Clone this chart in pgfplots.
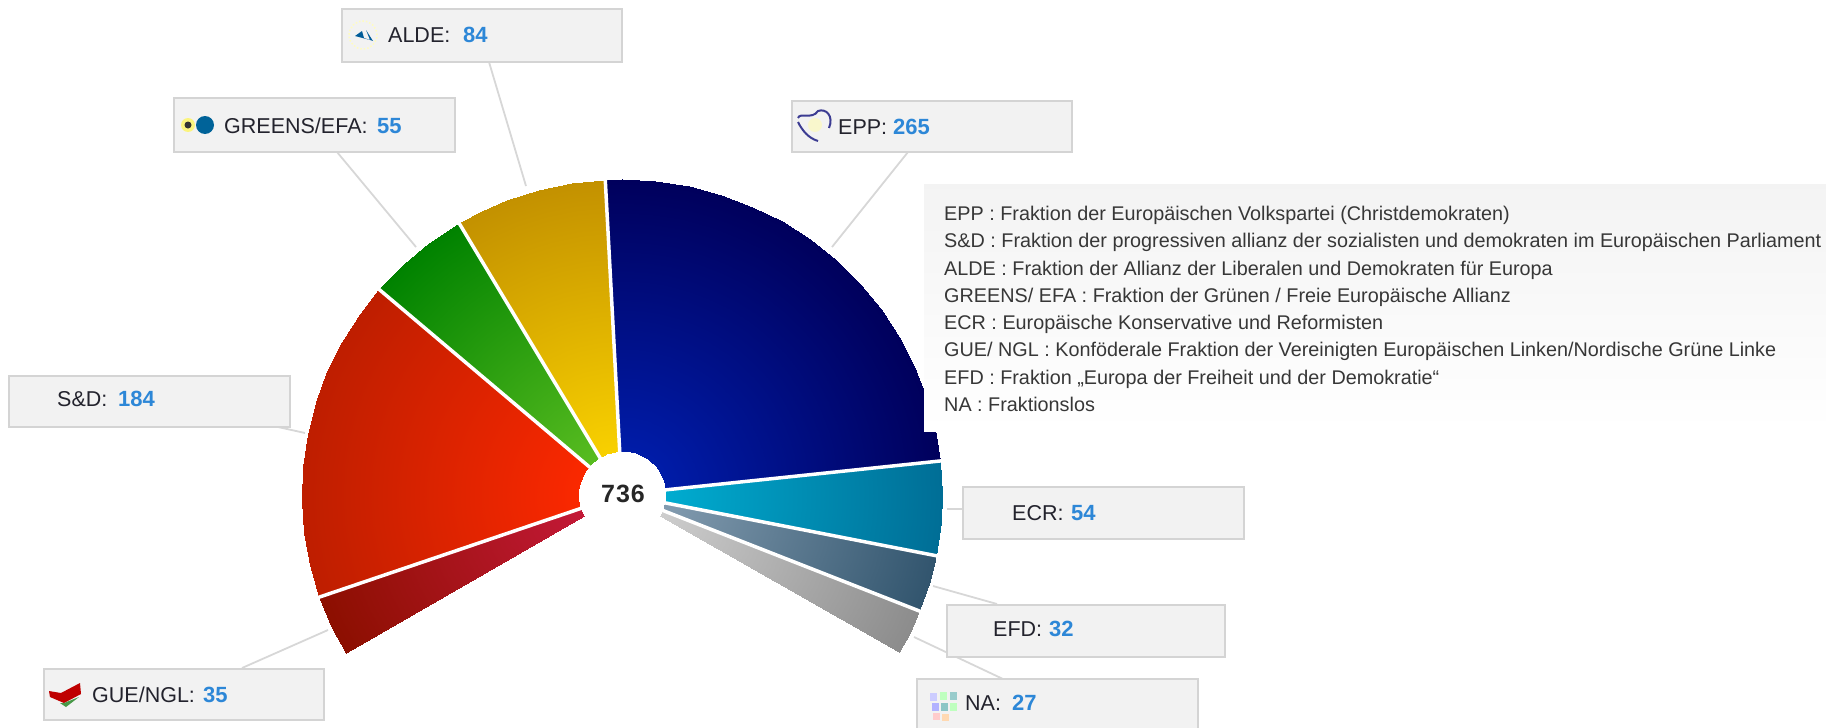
\documentclass[border=0pt]{standalone}
\usepackage{fontspec}
\setmainfont{Liberation Sans}
\usepackage{pgfplots}
\pgfplotsset{compat=1.18}
\definecolor{boxfill}{RGB}{242,242,242}
\definecolor{boxline}{RGB}{212,212,212}
\definecolor{leader}{RGB}{215,215,215}
\definecolor{numblue}{RGB}{45,135,215}
\definecolor{labeltxt}{RGB}{35,35,45}
\definecolor{legtxt}{RGB}{55,55,55}
\newcommand{\lab}[3]{%
  \node[anchor=base west,inner sep=0pt,font=\fontsize{21.5}{24}\selectfont,text=labeltxt] at (axis cs:#1,#2) {#3};}
\newcommand{\num}[3]{%
  \node[anchor=base west,inner sep=0pt,font=\fontsize{22}{24}\selectfont\bfseries,text=numblue] at (axis cs:#1,#2) {#3};}
\newcommand{\lbox}[4]{%
  \filldraw[fill=boxfill,draw=boxline,line width=1.5pt] (axis cs:#1,#2) rectangle (axis cs:#3,#4);}
\newcommand{\legline}[2]{%
  \node[anchor=base west,inner sep=0pt,font=\fontsize{19.8}{22}\selectfont,text=legtxt] at (axis cs:944,#1) {#2};}
\begin{document}
\begin{tikzpicture}
\useasboundingbox (0pt,0pt) rectangle (1826pt,728pt);
% ---- the fan: angle (degrees), radius (px); 0 = inner, 1 = outer colour
\begin{axis}[at={(0pt,0pt)},anchor=south west,scale only axis,width=1826pt,height=728pt,
  xmin=-622,xmax=1204,ymin=-237.1,ymax=502,hide axis,point meta min=0,point meta max=1]
\addplot[data cs=polar,patch,patch type=rectangle,shader=interp,point meta=explicit,
  colormap={na}{rgb255=(205,205,205) rgb255=(140,140,140)}] coordinates {
  (-30,44)[0] (-30,320)[1] (-26,320)[1] (-26,44)[0]
  (-26,44)[0] (-26,320)[1] (-21.7,320)[1] (-21.7,44)[0]};
\addplot[data cs=polar,patch,patch type=rectangle,shader=interp,point meta=explicit,
  colormap={efd}{rgb255=(130,155,175) rgb255=(50,85,110)}] coordinates {
  (-21.7,44)[0] (-21.7,320)[1] (-16,320)[1] (-16,44)[0]
  (-16,44)[0] (-16,320)[1] (-11.2,320)[1] (-11.2,44)[0]};
\addplot[data cs=polar,patch,patch type=rectangle,shader=interp,point meta=explicit,
  colormap={ecr}{rgb255=(0,172,208) rgb255=(0,110,150)}] coordinates {
  (-11.2,44)[0] (-11.2,320)[1] (-5,320)[1] (-5,44)[0]
  (-5,44)[0] (-5,320)[1] (0,320)[1] (0,44)[0]
  (0,44)[0] (0,320)[1] (6.1,320)[1] (6.1,44)[0]};
\addplot[data cs=polar,patch,patch type=rectangle,shader=interp,point meta=explicit,
  colormap={epp}{rgb255=(0,28,168) rgb255=(0,0,92)}] coordinates {
  (6.1,44)[0] (6.1,320)[1] (12,320)[1] (12,44)[0]
  (12,44)[0] (12,320)[1] (18,320)[1] (18,44)[0]
  (18,44)[0] (18,320)[1] (24,320)[1] (24,44)[0]
  (24,44)[0] (24,320)[1] (30,320)[1] (30,44)[0]
  (30,44)[0] (30,320)[1] (36,320)[1] (36,44)[0]
  (36,44)[0] (36,320)[1] (42,320)[1] (42,44)[0]
  (42,44)[0] (42,320)[1] (48,320)[1] (48,44)[0]
  (48,44)[0] (48,320)[1] (54,320)[1] (54,44)[0]
  (54,44)[0] (54,320)[1] (60,320)[1] (60,44)[0]
  (60,44)[0] (60,320)[1] (66,320)[1] (66,44)[0]
  (66,44)[0] (66,320)[1] (72,320)[1] (72,44)[0]
  (72,44)[0] (72,320)[1] (78,320)[1] (78,44)[0]
  (78,44)[0] (78,320)[1] (84,320)[1] (84,44)[0]
  (84,44)[0] (84,320)[1] (90,320)[1] (90,44)[0]
  (90,44)[0] (90,320)[1] (93,320)[1] (93,44)[0]};
\addplot[data cs=polar,patch,patch type=rectangle,shader=interp,point meta=explicit,
  colormap={alde}{rgb255=(248,208,0) rgb255=(195,145,0)}] coordinates {
  (93,44)[0] (93,320)[1] (99,320)[1] (99,44)[0]
  (99,44)[0] (99,320)[1] (105,320)[1] (105,44)[0]
  (105,44)[0] (105,320)[1] (111,320)[1] (111,44)[0]
  (111,44)[0] (111,320)[1] (116,320)[1] (116,44)[0]
  (116,44)[0] (116,320)[1] (120.6,320)[1] (120.6,44)[0]};
\addplot[data cs=polar,patch,patch type=rectangle,shader=interp,point meta=explicit,
  colormap={greens}{rgb255=(88,188,32) rgb255=(0,130,0)}] coordinates {
  (120.6,44)[0] (120.6,320)[1] (127,320)[1] (127,44)[0]
  (127,44)[0] (127,320)[1] (133,320)[1] (133,44)[0]
  (133,44)[0] (133,320)[1] (139.4,320)[1] (139.4,44)[0]};
\addplot[data cs=polar,patch,patch type=rectangle,shader=interp,point meta=explicit,
  colormap={sd}{rgb255=(250,40,0) rgb255=(190,30,0)}] coordinates {
  (139.4,44)[0] (139.4,320)[1] (145,320)[1] (145,44)[0]
  (145,44)[0] (145,320)[1] (151,320)[1] (151,44)[0]
  (151,44)[0] (151,320)[1] (157,320)[1] (157,44)[0]
  (157,44)[0] (157,320)[1] (163,320)[1] (163,44)[0]
  (163,44)[0] (163,320)[1] (169,320)[1] (169,44)[0]
  (169,44)[0] (169,320)[1] (175,320)[1] (175,44)[0]
  (175,44)[0] (175,320)[1] (181,320)[1] (181,44)[0]
  (181,44)[0] (181,320)[1] (187,320)[1] (187,44)[0]
  (187,44)[0] (187,320)[1] (193,320)[1] (193,44)[0]
  (193,44)[0] (193,320)[1] (199,320)[1] (199,44)[0]};
\addplot[data cs=polar,patch,patch type=rectangle,shader=interp,point meta=explicit,
  colormap={gue}{rgb255=(195,25,55) rgb255=(140,15,0)}] coordinates {
  (199,44)[0] (199,320)[1] (205,320)[1] (205,44)[0]
  (205,44)[0] (205,320)[1] (210.3,320)[1] (210.3,44)[0]};
% white separators
\addplot[data cs=polar,white,line width=3.5pt,forget plot] coordinates {(-21.7,40) (-21.7,326)};
\addplot[data cs=polar,white,line width=3.5pt,forget plot] coordinates {(-11.2,40) (-11.2,326)};
\addplot[data cs=polar,white,line width=3.5pt,forget plot] coordinates {(6.1,40) (6.1,326)};
\addplot[data cs=polar,white,line width=3.5pt,forget plot] coordinates {(93,40) (93,326)};
\addplot[data cs=polar,white,line width=3.5pt,forget plot] coordinates {(120.6,40) (120.6,326)};
\addplot[data cs=polar,white,line width=3.5pt,forget plot] coordinates {(139.4,40) (139.4,326)};
\addplot[data cs=polar,white,line width=3.5pt,forget plot] coordinates {(199,40) (199,326)};
\end{axis}
% ---- labels, in pixels of the reference
\begin{axis}[at={(0pt,0pt)},anchor=south west,scale only axis,width=1826pt,height=728pt,
  xmin=0,xmax=1826,ymin=0,ymax=728,y dir=reverse,hide axis]
% leaders
\addplot[leader,line width=1.8pt] coordinates {(489,62) (526,186)};
\addplot[leader,line width=1.8pt] coordinates {(337,152) (416,247)};
\addplot[leader,line width=1.8pt] coordinates {(908,152) (832,247)};
\addplot[leader,line width=1.8pt] coordinates {(947,509) (963,509)};
\addplot[leader,line width=1.8pt] coordinates {(933,586) (997,604)};
\addplot[leader,line width=1.8pt] coordinates {(914,637) (1003,679)};
\addplot[leader,line width=1.8pt] coordinates {(278,427) (305,433)};
\addplot[leader,line width=1.8pt] coordinates {(242,668) (328,630)};
% boxes
\lbox{342}{9}{622}{62}
\lbox{174}{98}{455}{152}
\lbox{792}{101}{1072}{152}
\lbox{963}{487}{1244}{539}
\lbox{947}{605}{1225}{657}
\lbox{917}{679}{1198}{740}
\lbox{9}{376}{290}{427}
\lbox{44}{669}{324}{720}
% legend panel
\shade[top color=boxfill!90!white,bottom color=white] (axis cs:924,184) rectangle (axis cs:1830,431);
% label texts
\lab{388}{42}{ALDE:}\num{463}{42}{84}
\lab{224}{133}{GREENS/EFA:}\num{377}{133}{55}
\lab{838}{134}{EPP:}\num{893}{134}{265}
\lab{1012}{520}{ECR:}\num{1071}{520}{54}
\lab{993}{636}{EFD:}\num{1049}{636}{32}
\lab{965}{710}{NA:}\num{1012}{710}{27}
\lab{57}{406}{S\&D:}\num{118}{406}{184}
\lab{92}{702}{GUE/NGL:}\num{203}{702}{35}
% centre total
\node[anchor=base,inner sep=0pt,font=\fontsize{25}{27}\selectfont\bfseries,text=black!85] at (axis cs:623,502) {7\kern1pt 3\kern1pt 6};
% legend
\legline{220}{EPP : Fraktion der Europäischen Volkspartei (Christdemokraten)}
\legline{247}{S\&D : Fraktion der progressiven allianz der sozialisten und demokraten im Europäischen Parliament}
\legline{275}{ALDE : Fraktion der Allianz der Liberalen und Demokraten für Europa}
\legline{302}{GREENS/ EFA : Fraktion der Grünen / Freie Europäische Allianz}
\legline{329}{ECR : Europäische Konservative und Reformisten}
\legline{356}{GUE/ NGL : Konföderale Fraktion der Vereinigten Europäischen Linken/Nordische Grüne Linke}
\legline{384}{EFD : Fraktion „Europa der Freiheit und der Demokratie“}
\legline{411}{NA : Fraktionslos}
% icons
\draw[color=blue!45!black,line width=2pt,opacity=.75] (axis cs:798,118) .. controls (axis cs:800,112) and (axis cs:812,120) .. (axis cs:818,111) .. controls (axis cs:826,108) and (axis cs:834,116) .. (axis cs:829,128);
\draw[color=blue!45!black,line width=2pt,opacity=.75] (axis cs:798,122) .. controls (axis cs:802,130) and (axis cs:808,138) .. (axis cs:818,141);
\fill[yellow!30,opacity=.6] (axis cs:815,125) circle[radius=7pt];
\fill[yellow!70,opacity=.7] (axis cs:188,125) circle[radius=7pt];
\fill[black!80] (axis cs:188,125) circle[radius=3.5pt];
\fill[blue!35!cyan!60!black] (axis cs:205,125) circle[radius=9pt];
\draw[yellow!25,dotted,line width=1.5pt] (axis cs:363,35) circle[radius=14pt];
\fill[blue!40!cyan!60!black] (axis cs:355,36) -- (axis cs:362,31) -- (axis cs:364,38) -- (axis cs:373,41) -- (axis cs:366,30) -- (axis cs:370,40) -- cycle;
\fill[red!75!black] (axis cs:49,691) -- (axis cs:61,693) -- (axis cs:80,683) -- (axis cs:81,694) -- (axis cs:64,703) -- (axis cs:50,697) -- cycle;
\fill[green!45!black,opacity=.7] (axis cs:60,703) -- (axis cs:64,703) -- (axis cs:79,697) -- (axis cs:66,707) -- cycle;
\fill[blue!20] (axis cs:930,693) rectangle (axis cs:937,701);
\fill[green!25] (axis cs:940,692) rectangle (axis cs:947,700);
\fill[teal!40] (axis cs:950,692) rectangle (axis cs:957,700);
\fill[blue!30] (axis cs:932,703) rectangle (axis cs:939,711);
\fill[teal!45] (axis cs:941,703) rectangle (axis cs:948,711);
\fill[green!25] (axis cs:950,703) rectangle (axis cs:957,711);
\fill[red!20] (axis cs:933,713) rectangle (axis cs:940,720);
\fill[orange!30] (axis cs:942,714) rectangle (axis cs:949,721);
\end{axis}
\end{tikzpicture}
\end{document}
